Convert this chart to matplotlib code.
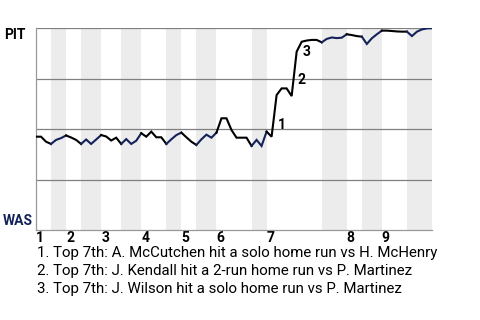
import matplotlib
matplotlib.use('Agg')
import matplotlib.pyplot as plt

plt.rcParams['font.family'] = ['Roboto', 'DejaVu Sans']

# Win probability for PIT after each plate appearance (0 = WAS, 1 = PIT)
win_prob = [0.462, 0.462, 0.437, 0.426, 0.446, 0.455, 0.468, 0.458, 0.446, 0.426,
            0.448, 0.426, 0.448, 0.470, 0.463, 0.443, 0.457, 0.426, 0.450, 0.426,
            0.442, 0.479, 0.462, 0.487, 0.459, 0.459, 0.426, 0.449, 0.470, 0.482,
            0.459, 0.437, 0.421, 0.449, 0.472, 0.457, 0.482, 0.553, 0.553, 0.495,
            0.457, 0.457, 0.457, 0.416, 0.446, 0.416, 0.487, 0.462, 0.668, 0.701,
            0.701, 0.663, 0.883, 0.932, 0.938, 0.941, 0.941, 0.929, 0.946, 0.953,
            0.950, 0.952, 0.969, 0.965, 0.960, 0.957, 0.921, 0.949, 0.969, 0.987,
            0.987, 0.985, 0.983, 0.982, 0.982, 0.960, 0.982, 0.993, 0.998, 0.999]

# plate appearance index where each half inning begins (last = end of game)
half_starts = [0, 3, 6, 9, 13, 17, 21, 26, 29, 32, 36, 43, 46, 57, 62, 65, 69, 74, 79]
innings = ['1', '2', '3', '4', '5', '6', '7', '8', '9']

# key events: plate appearance index and description
event_idx = [48, 52, 53]
event_text = ['Top 7th: A. McCutchen hit a solo home run vs H. McHenry',
              'Top 7th: J. Kendall hit a 2-run home run vs P. Martinez',
              'Top 7th: J. Wilson hit a solo home run vs P. Martinez']

PIT_COLOR = '#000000'
WAS_COLOR = '#14225a'

fig = plt.figure(figsize=(4.8, 3.2), dpi=100)
ax = fig.add_axes([36 / 480, 1 - 230 / 320, 396 / 480, 202 / 320])

# shade bottom halves (WAS batting)
for k in range(1, len(half_starts) - 1, 2):
    ax.axvspan(half_starts[k], half_starts[k + 1], color='#ececec', lw=0, zorder=0)

for y in [0.25, 0.5, 0.75, 1.0]:
    ax.axhline(y, color='#808080', lw=0.9, zorder=1)

# line, coloured by who is batting
for k in range(len(half_starts) - 1):
    a, b = half_starts[k], half_starts[k + 1]
    xs = list(range(a, b + 1))
    ys = win_prob[a:b + 1]
    ax.plot(xs, ys, color=PIT_COLOR if k % 2 == 0 else WAS_COLOR, lw=1.5,
            solid_joinstyle='miter', zorder=3)

# event markers
offsets = [(0.2, 0.52), (0.2, 0.745), (0.2, 0.88)]
for n, (i, off) in enumerate(zip(event_idx, offsets), start=1):
    ax.text(i + off[0], off[1], str(n), fontsize=10, fontweight='bold',
            ha='left', va='center', zorder=4)

ax.set_xlim(0, half_starts[-1])
ax.set_ylim(0, 1)
for s in ['top', 'right']:
    ax.spines[s].set_visible(False)
for s in ['left', 'bottom']:
    ax.spines[s].set_color('#999999')
    ax.spines[s].set_linewidth(0.9)
ax.set_yticks([])

inning_starts = half_starts[0:-1:2]
ax.set_xticks(inning_starts)
ax.set_xticklabels(innings, fontsize=10, fontweight='bold')
for lbl in ax.get_xticklabels():
    lbl.set_ha('left')
ax.tick_params(axis='x', length=0, pad=1)

fig.text(4 / 480, 1 - 28 / 320, 'PIT', fontsize=10, fontweight='bold',
         color=PIT_COLOR, ha='left', va='top')
fig.text(3 / 480, 1 - 225 / 320, 'WAS', fontsize=10, fontweight='bold',
         color=WAS_COLOR, ha='left', va='baseline')

for n, t in enumerate(event_text):
    fig.text(37 / 480, 1 - (257.5 + n * 17.8) / 320, f'{n + 1}. {t}',
             fontsize=10.8, ha='left', va='baseline')

fig.savefig('out.png', dpi=100)
